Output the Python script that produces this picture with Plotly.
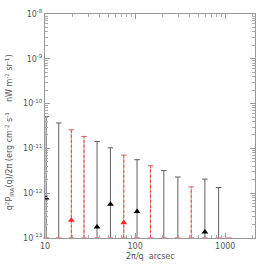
import plotly.graph_objects as go

# angular scale 2pi/q (arcsec)
black_x = [10.3, 14.2, 37.8, 53.2, 105, 208, 298, 594, 844]
black_upper = [5.1e-11, 3.7e-11, 1.43e-11, 1.03e-11, 5.6e-12, 3.2e-12, 2.3e-12, 2.06e-12, 1.34e-12]
black_value = [7.85e-13, None, 1.76e-13, 5.7e-13, 3.9e-13, None, None, 1.36e-13, None]

red_x = [19.6, 27.1, 74.8, 148, 419]
red_upper = [2.6e-11, 1.85e-11, 7.1e-12, 4.1e-12, 1.38e-12]
red_value = [2.5e-13, None, 2.2e-13, None, None]

bottom_x = [10.3, 14.2, 19.6, 27.1, 37.8, 53.2, 74.8, 105, 148, 208, 298, 419, 594, 844, 1100]
LOW = 1e-14

y_ticks = [1e-13, 1e-12, 1e-11, 1e-10, 1e-9, 1e-8]
y_ticktext = ["10<sup>-13</sup>", "10<sup>-12</sup>", "10<sup>-11</sup>", "10<sup>-10</sup>", "10<sup>-9</sup>", "10<sup>-8</sup>"]
x_ticks = [10, 100, 1000]
x_ticktext = ["10", "100", "1000"]

def bar_xy(xs, tops):
    bx, by = [], []
    for x, t in zip(xs, tops):
        bx += [x, x, None]
        by += [LOW, t, None]
    return bx, by

fig = go.Figure()
GRAY = "#606060"
RED = "#ff2020"

bx, by = bar_xy(black_x, black_upper)
fig.add_trace(go.Scatter(x=bx, y=by, mode="lines", line=dict(color=GRAY, width=1), hoverinfo="skip"))
rx, ry = bar_xy(red_x, red_upper)
fig.add_trace(go.Scatter(x=rx, y=ry, mode="lines", line=dict(color="#b8a8a8", width=1), hoverinfo="skip"))
fig.add_trace(go.Scatter(x=rx, y=ry, mode="lines", line=dict(color="#ff4040", width=1, dash="3px,2px"), hoverinfo="skip"))

# caps
fig.add_trace(go.Scatter(x=black_x, y=black_upper, mode="markers",
                         marker=dict(symbol="line-ew-open", size=4, color=GRAY, line=dict(color=GRAY, width=1))))
fig.add_trace(go.Scatter(x=red_x, y=red_upper, mode="markers",
                         marker=dict(symbol="line-ew-open", size=4, color="#e06060", line=dict(color="#e06060", width=1))))

# bottom marks
fig.add_trace(go.Scatter(x=bottom_x, y=[1e-13] * len(bottom_x), mode="markers", cliponaxis=False,
                         marker=dict(symbol="line-ew-open", size=4, color="#ff8080", line=dict(color="#ff8080", width=1.5))))

# data points
fig.add_trace(go.Scatter(x=black_x, y=black_value, mode="markers",
                         marker=dict(symbol="triangle-up", size=6, color="black")))
fig.add_trace(go.Scatter(x=red_x, y=red_value, mode="markers",
                         marker=dict(symbol="triangle-up", size=6, color=RED)))

axis_common = dict(type="log", showgrid=False, zeroline=False, showline=True, linecolor="#999999",
                   linewidth=1, mirror="ticks", ticks="inside", ticklen=5, tickcolor="#999999",
                   automargin=False,
                   tickfont=dict(family="DejaVu Sans", size=8, color="#555555"),
                   minor=dict(ticks="inside", ticklen=3, tickcolor="#aaaaaa", dtick="D1", showgrid=False))

fig.update_xaxes(**axis_common, range=[1, 3.33], tickvals=x_ticks, ticktext=x_ticktext)
fig.update_yaxes(**axis_common, range=[-13, -8], tickvals=y_ticks, ticktext=y_ticktext)

fig.add_annotation(text="2π/q  arcsec", xref="paper", yref="paper", x=0.5, y=0, yshift=-12,
                   showarrow=False, font=dict(family="DejaVu Sans", size=8, color="#555555"), yanchor="top")
fig.add_annotation(text="q<sup>2</sup>P<sub>IRA</sub>(q)/2π (erg cm<sup>-2</sup> s<sup>-1</sup>    nW m<sup>-2</sup> sr<sup>-1</sup>)",
                   xref="paper", yref="paper", x=0, xshift=-28, y=0.47, textangle=-90,
                   showarrow=False, font=dict(family="DejaVu Sans", size=8, color="#555555"), xanchor="right")

fig.update_layout(width=266, height=266, showlegend=False, plot_bgcolor="white", paper_bgcolor="white",
                  margin=dict(l=45, r=11, t=14, b=28))
fig.write_html("out.html", config={"displayModeBar": False},
               post_script="document.body.style.margin='0';document.body.style.overflow='hidden';")
